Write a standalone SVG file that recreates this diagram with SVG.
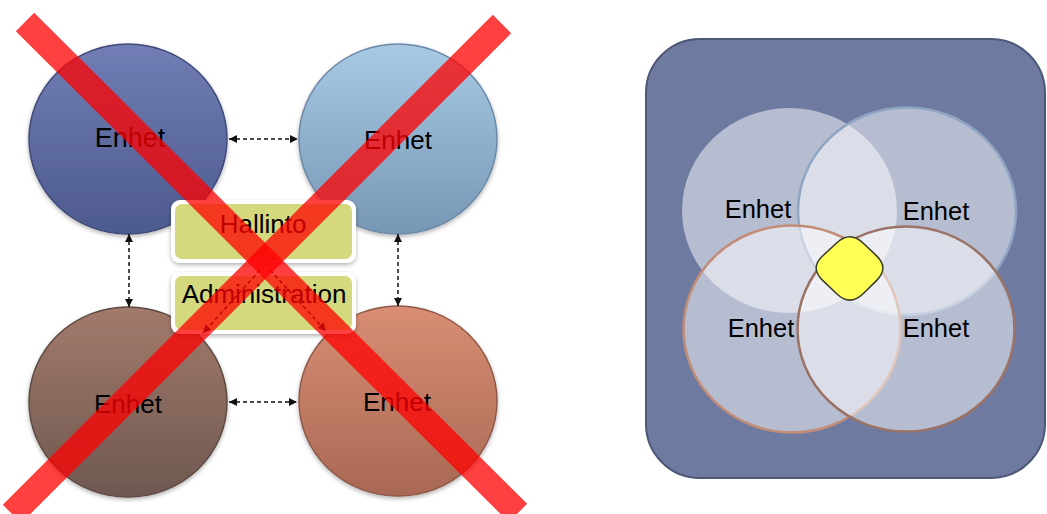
<svg xmlns="http://www.w3.org/2000/svg" width="1047" height="514" viewBox="0 0 1047 514">
<style>
.t{font-family:"Liberation Sans",Arial,sans-serif;fill:#000;text-anchor:middle}
.lt{font-size:26px}
.rt{font-size:25.5px}
.dash{fill:none;stroke:#111;stroke-width:1.5;stroke-dasharray:4 3}
.box{fill:#fff;filter:url(#sh)}
.boxin{fill:#d3d97c}
.xline{stroke:#ff0000;stroke-opacity:0.75;stroke-width:26;stroke-linecap:butt}
.vc{fill:#fff;fill-opacity:0.5}
</style>
<defs>
<filter id="sh" x="-20%" y="-20%" width="140%" height="140%">
<feDropShadow dx="0" dy="2" stdDeviation="2" flood-color="#000" flood-opacity="0.3"/>
</filter>
<linearGradient id="g1" x1="0" y1="0" x2="0" y2="1"><stop offset="0" stop-color="#717eb5"/><stop offset="1" stop-color="#4d5a8e"/></linearGradient>
<linearGradient id="g2" x1="0" y1="0" x2="0" y2="1"><stop offset="0" stop-color="#a8cae3"/><stop offset="1" stop-color="#7797b5"/></linearGradient>
<linearGradient id="g3" x1="0" y1="0" x2="0" y2="1"><stop offset="0" stop-color="#a27a6b"/><stop offset="1" stop-color="#6e5850"/></linearGradient>
<linearGradient id="g4" x1="0" y1="0" x2="0" y2="1"><stop offset="0" stop-color="#d98e74"/><stop offset="1" stop-color="#a86854"/></linearGradient>
<marker id="ah" viewBox="0 0 10 10" refX="10" refY="5" markerWidth="8" markerHeight="8" markerUnits="userSpaceOnUse" orient="auto-start-reverse">
<path d="M0,0 L10,5 L0,10 Z" fill="#111"/>
</marker>
</defs>
<rect width="1047" height="514" fill="#fff"/>

<g id="left-tl">
<ellipse cx="128" cy="139" rx="99" ry="95" fill="url(#g1)" stroke="#3f4a78" stroke-width="1.5" filter="url(#sh)"/>
<text class="t" x="130" y="147" style="font-size:27px">Enhet</text>
</g>
<g id="left-tr">
<ellipse cx="398" cy="139" rx="99" ry="95" fill="url(#g2)" stroke="#6a88a8" stroke-width="1.5" filter="url(#sh)"/>
<text class="t lt" x="398" y="149">Enhet</text>
</g>
<g id="left-bl">
<ellipse cx="128" cy="402" rx="99" ry="95" fill="url(#g3)" stroke="#5e4a42" stroke-width="1.5" filter="url(#sh)"/>
<text class="t lt" x="128" y="413">Enhet</text>
</g>
<g id="left-br">
<ellipse cx="398" cy="401" rx="99" ry="95" fill="url(#g4)" stroke="#8e5848" stroke-width="1.5" filter="url(#sh)"/>
<text class="t lt" x="397" y="411">Enhet</text>
</g>
<g id="hallinto">
<rect class="box" x="171" y="200" width="185" height="63" rx="9"/>
<rect class="boxin" x="175" y="204" width="177" height="55" rx="7"/>
<text class="t lt" x="263" y="233">Hallinto</text>
</g>
<g id="administration">
<rect class="box" x="171" y="272" width="185" height="62" rx="9"/>
<rect class="boxin" x="175" y="276" width="177" height="54" rx="7"/>
<text class="t lt" x="264" y="303">Administration</text>
</g>

<g id="connectors">
<line class="dash" x1="229" y1="139" x2="298" y2="139" marker-start="url(#ah)" marker-end="url(#ah)"/>
<line class="dash" x1="229" y1="402" x2="297" y2="402" marker-start="url(#ah)" marker-end="url(#ah)"/>
<line class="dash" x1="129" y1="234" x2="129" y2="307" marker-start="url(#ah)" marker-end="url(#ah)"/>
<line class="dash" x1="398" y1="234" x2="398" y2="306" marker-start="url(#ah)" marker-end="url(#ah)"/>
<line class="dash" x1="260" y1="270" x2="203" y2="333" marker-end="url(#ah)"/>
<line class="dash" x1="270" y1="270" x2="326" y2="331" marker-end="url(#ah)"/>
</g>

<g id="cross">
<line class="xline" x1="25" y1="22" x2="518" y2="513"/>
<line class="xline" x1="502" y1="24" x2="12" y2="514"/>
</g>

<g id="panel">
<rect x="646" y="39" width="399" height="439" rx="54" fill="#6f7aa1" stroke="#4d5777" stroke-width="2"/>
</g>
<g id="venn-tl">
<ellipse class="vc" cx="789.5" cy="210.5" rx="107.5" ry="102.5"/>
</g>
<g id="venn-tr">
<ellipse class="vc" cx="907" cy="211" rx="109" ry="103.5" stroke="#8ea6c4" stroke-width="2.5"/>
</g>
<g id="venn-bl">
<ellipse class="vc" cx="792" cy="329" rx="108.5" ry="103.5" stroke="#c28c76" stroke-width="2.5"/>
</g>
<g id="venn-br">
<ellipse class="vc" cx="906" cy="329" rx="108.5" ry="102.5" stroke="#9a7266" stroke-width="2.5"/>
</g>
<g id="venn-labels">
<text class="t rt" x="758" y="218">Enhet</text>
<text class="t rt" x="936" y="220">Enhet</text>
<text class="t rt" x="761" y="337">Enhet</text>
<text class="t rt" x="936" y="337">Enhet</text>
</g>
<g id="core">
<path d="M836.8,242.8 Q850,230.6 863.05,243 L876.35,255.6 Q889.4,268 876.5,280.6 L863.1,293.8 Q850,306.4 836.95,294 L822.65,280.4 Q809.6,268 822.8,255.8 Z" fill="#ffff55" stroke="#3a3a2a" stroke-width="1.5"/>
</g>
</svg>
